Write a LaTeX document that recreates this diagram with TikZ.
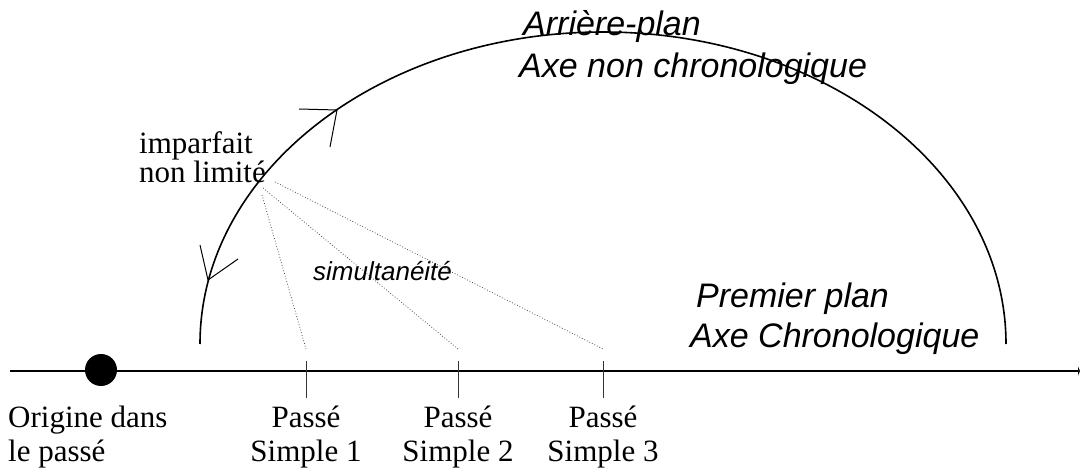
\documentclass[tikz,border=0pt]{standalone}
\usepackage{fontspec}
\setmainfont{Liberation Serif}
\newfontfamily\arialfont{Liberation Sans}
\usetikzlibrary{arrows.meta}
\begin{document}
\begin{tikzpicture}[x=1pt,y=-1pt,
  mainline/.style={line width=1.6pt,black},
  markline/.style={line width=1pt,black},
  tickline/.style={line width=0.9pt,black!80},
  dotline/.style={line width=0.8pt,black!70,dotted},
  serif/.style={font=\fontsize{31}{35}\selectfont,inner sep=0pt,align=left},
  serifc/.style={font=\fontsize{31}{34}\selectfont,inner sep=0pt,align=center},
  sansit/.style={font=\arialfont\itshape\fontsize{34}{41}\selectfont,inner sep=0pt,align=left},
  sanssmall/.style={font=\arialfont\itshape\fontsize{26}{30}\selectfont,inner sep=0pt}]
\useasboundingbox (0,0) rectangle (1081,470);
% axis
\coordinate (axL) at (10,371);
\coordinate (axR) at (1080,371);
\draw[mainline,-{Triangle[length=2pt,width=9pt]}] (axL) -- (axR);
% origin dot
\node[circle,fill=black,minimum size=32pt,inner sep=0pt] (orig) at (101,370) {};
% arc (half ellipse)
\coordinate (arcL) at (200,344);
\draw[mainline] (arcL) arc[start angle=180,end angle=360,x radius=403,y radius=312];
% arrow marks on arc
\coordinate (m1) at (337,110);
\coordinate (m1a) at (299,109);
\coordinate (m1b) at (330,147);
\draw[markline] (m1a) -- (m1) -- (m1b);
\coordinate (m2) at (208,280);
\coordinate (m2a) at (200,245);
\coordinate (m2b) at (238,259);
\draw[markline] (m2a) -- (m2) -- (m2b);
% ticks
\foreach \n/\x in {1/306,2/458,3/603}{
  \coordinate (t\n top) at (\x,361);
  \coordinate (t\n bot) at (\x,398);
  \draw[tickline] (t\n top) -- (t\n bot);
  \coordinate (e\n) at (\x,349);
}
% dotted lines
\coordinate (s1) at (262,195);
\coordinate (s2) at (263,188);
\coordinate (s3) at (275,182);
\draw[dotline] (s1) -- (e1);
\draw[dotline] (s2) -- (e2);
\draw[dotline] (s3) -- (e3);
% texts
\node[sansit,anchor=base west] (ap) at (523,36) {Arrière-plan};
\node[sansit,anchor=base west] (anc) at (519,78) {Axe non chronologique};
\node[sansit,anchor=base west] (pp) at (696,307) {Premier plan};
\node[sansit,anchor=base west] (ac) at (690,347) {Axe Chronologique};
\node[sanssmall,anchor=base west] (sim) at (313,280) {simultanéité};
\node[serif,anchor=base west] (imp) at (139,154) {imparfait};
\node[serif,anchor=base west] (nl) at (139,183) {non limité};
\node[serif,anchor=base west] (og1) at (8,427) {Origine dans};
\node[serif,anchor=base west] (og2) at (8,461) {le passé};
\foreach \n/\x in {1/306,2/458,3/603}{
  \node[serifc,anchor=base] (p\n) at (\x,427) {Passé};
  \node[serifc,anchor=base] (q\n) at (\x,461) {Simple \n};
}
\end{tikzpicture}
\end{document}
